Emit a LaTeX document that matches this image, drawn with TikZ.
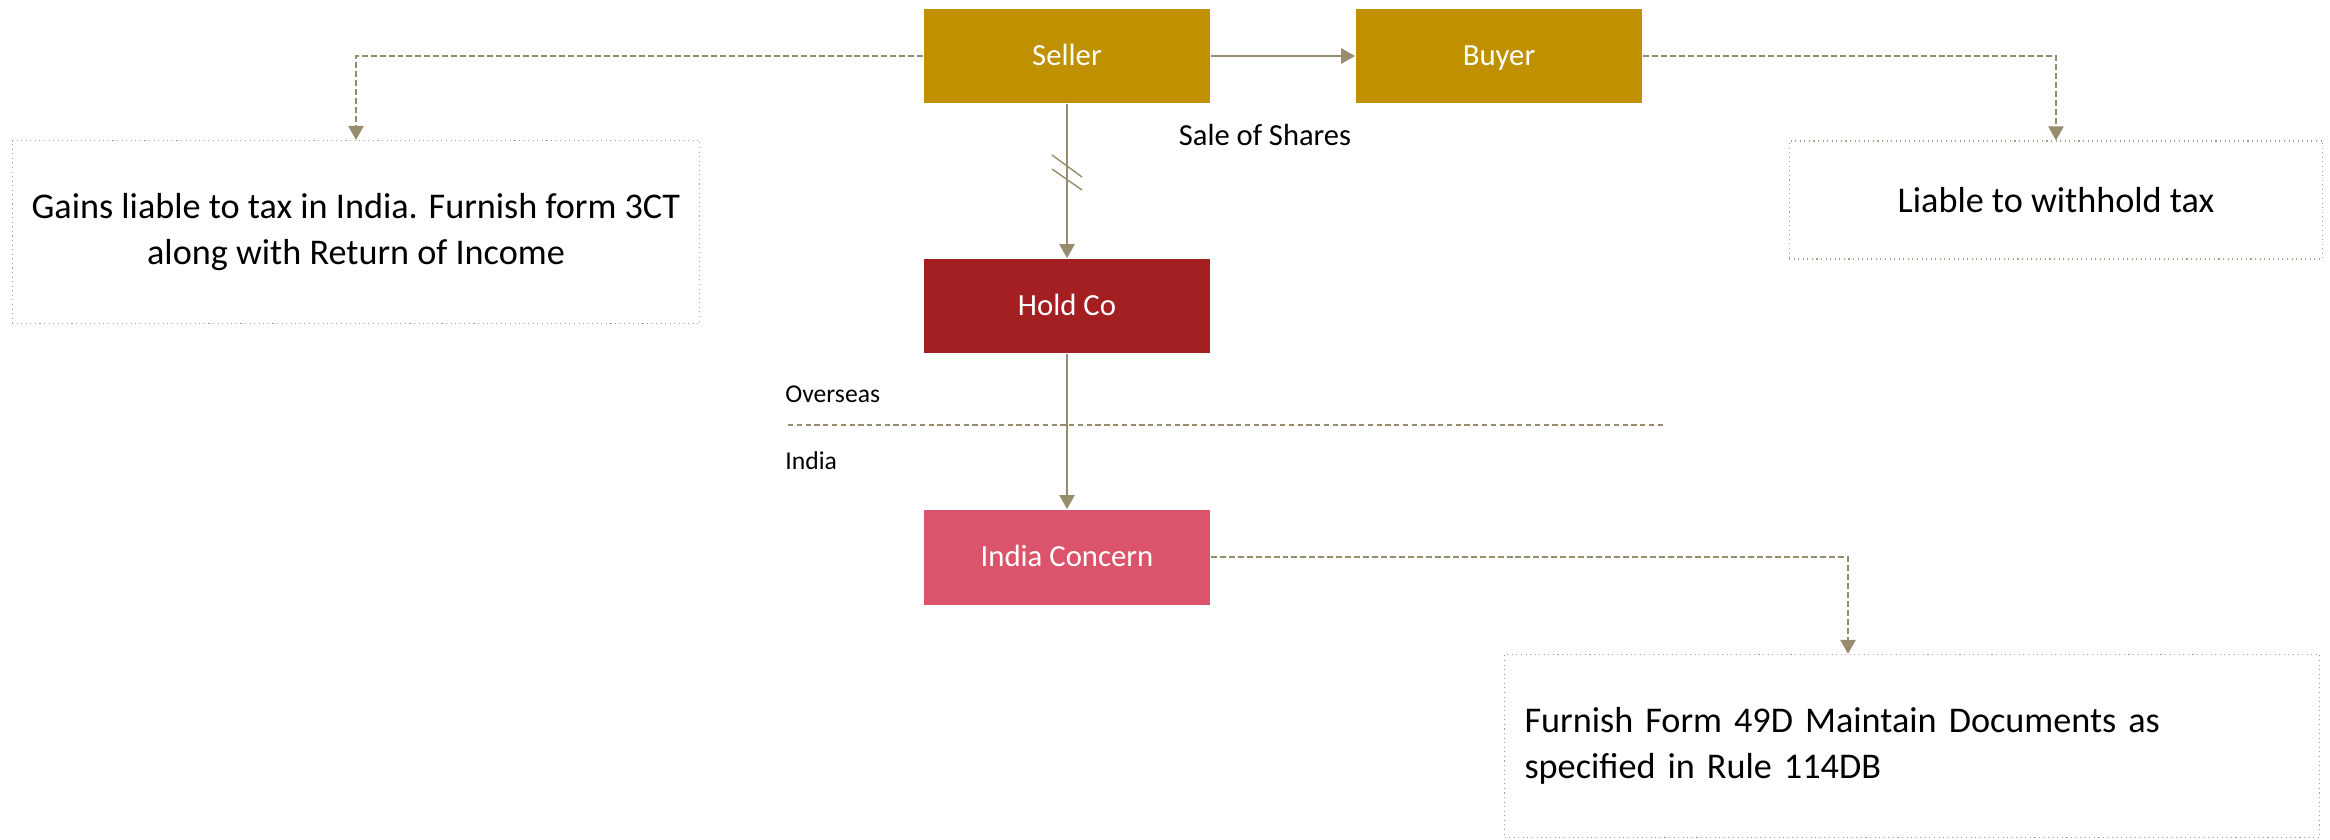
\documentclass[tikz,border=0pt]{standalone}
\usepackage{fontspec}
\setmainfont{Carlito}
\usetikzlibrary{arrows.meta}
\definecolor{gold}{HTML}{BF9000}
\definecolor{weinrot}{HTML}{A31F22}
\definecolor{rosa}{HTML}{DC546C}
\definecolor{linie}{HTML}{978C6E}
\definecolor{rand}{HTML}{A89F87}
\tikzset{
  einheit/.style={minimum width=5.74cm,minimum height=1.9cm,inner sep=0pt,text height=11.3pt,text depth=0pt,text=white,font=\fontsize{17.5}{21}\selectfont},
  notiz/.style={draw=rand,dotted,line width=0.6pt,inner sep=0pt,font=\fontsize{20.6}{25.8}\selectfont},
  pfeil/.style={-{Triangle[length=8pt,width=8.5pt]},linie,line width=1.6pt},
  strich/.style={-{Triangle[length=8pt,width=8.5pt]},linie,line width=1.6pt,dash pattern=on 3.4pt off 1.7pt},
  grenze/.style={linie,line width=0.8pt,dash pattern=on 3pt off 2pt},
  kerbe/.style={linie,line width=0.8pt},
  region/.style={anchor=west,inner sep=0pt,font=\fontsize{14.6}{17}\selectfont},
}

\begin{document}
\begin{tikzpicture}[x=0.02cm,y=-0.02cm]
  \useasboundingbox (0,0) rectangle (2330,839);
  % parties and companies
  \node[einheit,fill=gold] (seller) at (1067,56) {Seller};
  \node[einheit,fill=gold] (buyer) at (1499,56) {Buyer};
  \node[einheit,fill=weinrot] (holdco) at (1067,306) {Hold Co};
  \node[einheit,fill=rosa] (india) at (1067,557) {India Concern};
  % notes
  \node[notiz,minimum width=13.76cm,minimum height=3.66cm,align=center] (links) at (356,232)
    {Gains liable to tax in India. Furnish form 3CT\\along with Return of Income};
  \node[notiz,minimum width=10.68cm,minimum height=2.36cm] (rechts) at (2056,200) {Liable to withhold tax};
  \node[notiz,minimum width=16.3cm,minimum height=3.66cm,text width=15.5cm,inner xsep=0.4cm,align=left] (unten) at (1912,746)
    {Furnish Form 49D Maintain Documents as\\specified in Rule 114DB};
  \node[inner sep=0pt,font=\fontsize{17.4}{21}\selectfont] (sale) at (1265,135) {Sale of Shares};
  % border between overseas and India
  \node[region] (overseas) at (785,394) {Overseas};
  \node[region] (indien) at (785,461) {India};
  \coordinate (gl) at (788,425);
  \coordinate (gr) at (1664,425);
  \draw[grenze] (gl) -- (gr);
  % connectors
  \draw[pfeil] (seller) -- (buyer);
  \draw[pfeil] (seller) -- (holdco);
  \draw[pfeil] (holdco) -- (india);
  \draw[strich] (seller.west) -| (links.north);
  \draw[strich] (buyer.east) -| (rechts.north);
  \coordinate (ziel) at ([xshift=6.88cm]unten.north west);
  \draw[strich] (india.east) -| (ziel);
  % indirect holding marks
  \coordinate (k) at (1067,172);
  \draw[kerbe] (k) ++(-15,-17) -- ++(30,22);
  \draw[kerbe] (k) ++(-15,-3) -- ++(30,21);
\end{tikzpicture}
\end{document}
